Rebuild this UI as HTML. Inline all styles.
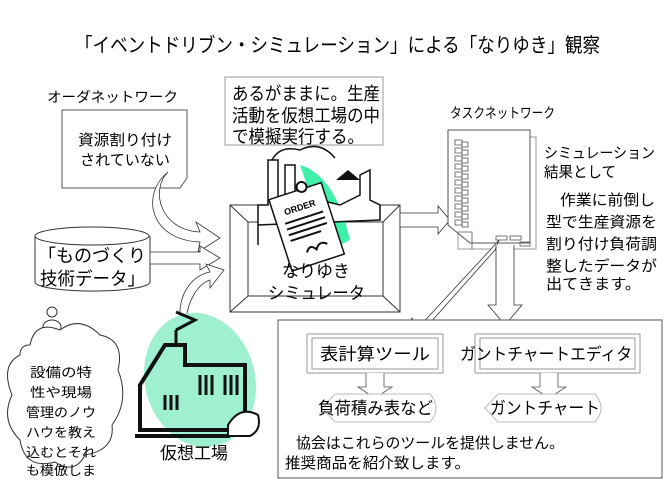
<!DOCTYPE html>
<html><head><meta charset="utf-8"><style>
html,body{margin:0;padding:0;background:#fff;}
svg{display:block;font-family:"Liberation Sans","Noto Sans CJK JP",sans-serif;}
</style></head><body>
<svg width="672" height="504" viewBox="0 0 672 504" xmlns="http://www.w3.org/2000/svg">
<rect width="672" height="504" fill="#fff"/>
<text x="75" y="52" font-size="20" textLength="525" lengthAdjust="spacingAndGlyphs">「イベントドリブン・シミュレーション」による「なりゆき」観察</text>

<!-- order network -->
<text x="47" y="102" font-size="14" textLength="131" lengthAdjust="spacingAndGlyphs">オーダネットワーク</text>
<path d="M62,110 H187 V178 L180,188 H62 Z" fill="#fff" stroke="#555"/>
<text x="78" y="145" font-size="15" textLength="94" lengthAdjust="spacingAndGlyphs">資源割り付け</text>
<text x="80" y="165" font-size="15" textLength="90" lengthAdjust="spacingAndGlyphs">されていない</text>
<path d="M168,172 C150,190 160,230 200,232 L196,222 L220,238 L198,252 L200,242 C150,240 140,195 168,172 Z" fill="#fff" stroke="#333" stroke-width="0.8"/>

<!-- cylinder -->
<path d="M35,236 V282 A57,9 0 0 0 150,282 V236" fill="#fff" stroke="#333"/>
<ellipse cx="92" cy="236" rx="57" ry="9" fill="#fff" stroke="#333"/>
<text x="38" y="262" font-size="18" textLength="108" lengthAdjust="spacingAndGlyphs">「ものづくり</text>
<text x="40" y="285" font-size="18" textLength="105" lengthAdjust="spacingAndGlyphs">技術データ」</text>
<path d="M150,252 H200 V246 L220,258 L200,270 V264 H150 Z" fill="#fff" stroke="#333" stroke-width="0.8"/>
<path d="M180,320 C178,290 195,275 210,272 L206,264 L224,270 L210,288 L210,280 C198,284 188,300 186,320 Z" fill="#fff" stroke="#333" stroke-width="0.8"/>

<!-- textbox -->
<rect x="225" y="77" width="158" height="68" fill="#fff" stroke="#999"/>
<text x="232" y="100" font-size="18" textLength="148" lengthAdjust="spacingAndGlyphs">あるがままに。生産</text>
<text x="232" y="122" font-size="18" textLength="148" lengthAdjust="spacingAndGlyphs">活動を仮想工場の中</text>
<text x="232" y="143" font-size="18" textLength="132" lengthAdjust="spacingAndGlyphs">で模擬実行する。</text>

<!-- simulator frame -->
<rect x="230" y="205" width="170" height="107" fill="#fff" stroke="#333"/>
<rect x="248" y="222" width="135" height="74" fill="#fff" stroke="#333"/>
<path d="M230,205 L248,222 M400,205 L383,222 M230,312 L248,296 M400,312 L383,296" stroke="#333"/>
<path d="M300,165 Q335,175 350,240 L330,250 Z" fill="#3ef0a8"/>
<path d="M258,245 V205 H268 V160 H278 V205 H285 V165 H295 V205 H300 L320,200 L340,205 L360,195 V175 L370,170 V200 L380,205 V220 L258,225 Z" fill="#fff" stroke="#111" stroke-width="1.5"/>
<path d="M272,160 Q280,145 300,150 Q320,140 335,158" fill="none" stroke="#111" stroke-width="1.5"/>
<path d="M336,180 L348,170 L360,180 Z" fill="#111"/>
<g transform="rotate(-18 305 230)">
<rect x="280" y="190" width="55" height="75" fill="#fff" stroke="#111" stroke-width="1.5"/>
<text x="307" y="210" font-size="9" text-anchor="middle" font-weight="bold">ORDER</text>
<path d="M288,218 H328 M288,224 H328 M288,230 H328 M288,236 H320" stroke="#111" stroke-width="2"/>
<path d="M300,252 q5,-8 10,0 q5,-8 12,-2" fill="none" stroke="#111" stroke-width="2"/>
<circle cx="315" cy="188" r="5" fill="#fff" stroke="#111" stroke-width="2"/>
</g>
<text x="282" y="277" font-size="17" textLength="68" lengthAdjust="spacingAndGlyphs">なりゆき</text>
<text x="268" y="299" font-size="17" textLength="97" lengthAdjust="spacingAndGlyphs">シミュレータ</text>

<path d="M400,213 H438 V206 L450,220 L438,234 V227 H400 Z" fill="#fff" stroke="#333" stroke-width="0.8"/>

<!-- task network -->
<text x="450" y="118" font-size="14" textLength="105" lengthAdjust="spacingAndGlyphs">タスクネットワーク</text>
<rect x="458" y="137" width="78" height="112" fill="#fff" stroke="#999"/>
<path d="M448,130 H530 V243 H470 L448,225 Z" fill="#fff" stroke="#555"/>
<g fill="none" stroke="#555" stroke-width="0.8">
<rect x="455" y="140" width="7" height="5"/><rect x="455" y="148" width="7" height="5"/><rect x="455" y="156" width="7" height="5"/><rect x="455" y="164" width="7" height="5"/><rect x="455" y="172" width="7" height="5"/><rect x="455" y="180" width="7" height="5"/><rect x="455" y="188" width="7" height="5"/><rect x="455" y="196" width="7" height="5"/><rect x="455" y="204" width="7" height="5"/><rect x="455" y="212" width="7" height="5"/><rect x="455" y="220" width="7" height="5"/>
<rect x="462" y="142" width="6" height="5"/><rect x="462" y="150" width="6" height="5"/><rect x="462" y="158" width="6" height="5"/><rect x="462" y="166" width="6" height="5"/><rect x="462" y="174" width="6" height="5"/><rect x="462" y="182" width="6" height="5"/><rect x="462" y="190" width="6" height="5"/><rect x="462" y="198" width="6" height="5"/><rect x="462" y="206" width="6" height="5"/><rect x="462" y="214" width="6" height="5"/><rect x="462" y="222" width="6" height="5"/>
<rect x="496" y="236" width="11" height="4"/><rect x="510" y="236" width="11" height="4"/><rect x="520" y="242" width="10" height="4"/>
<path d="M458,232 H472 V249"/>
</g>
<text x="544" y="158" font-size="15" textLength="111" lengthAdjust="spacingAndGlyphs">シミュレーション</text>
<text x="544" y="177" font-size="15" textLength="72" lengthAdjust="spacingAndGlyphs">結果として</text>
<text x="560" y="205" font-size="15" textLength="95" lengthAdjust="spacingAndGlyphs">作業に前倒し</text>
<text x="546" y="227" font-size="15" textLength="111" lengthAdjust="spacingAndGlyphs">型で生産資源を</text>
<text x="546" y="249" font-size="15" textLength="111" lengthAdjust="spacingAndGlyphs">割り付け負荷調</text>
<text x="546" y="271" font-size="15" textLength="111" lengthAdjust="spacingAndGlyphs">整したデータが</text>
<text x="546" y="289" font-size="15" textLength="95" lengthAdjust="spacingAndGlyphs">出てきます。</text>

<path d="M499,240 L492,248 L418,328 L412,318 L405,345 L430,336 L422,332 L495,250 Z" fill="#fff" stroke="#333" stroke-width="0.8"/>
<path d="M496,245 V305 H488 L505,325 L522,305 H514 V245" fill="#fff" stroke="#333" stroke-width="0.8"/>

<!-- bottom box -->
<rect x="278" y="320" width="384" height="158" fill="#fff" stroke="#555"/>
<rect x="307" y="334" width="136" height="39" fill="#fff" stroke="#999"/>
<rect x="312" y="338" width="126" height="31" fill="#fff" stroke="#999"/>
<text x="320" y="360" font-size="17" textLength="110" lengthAdjust="spacingAndGlyphs">表計算ツール</text>
<rect x="475" y="334" width="165" height="39" fill="#fff" stroke="#999"/>
<rect x="480" y="338" width="155" height="31" fill="#fff" stroke="#999"/>
<text x="460" y="360" font-size="17" textLength="172" lengthAdjust="spacingAndGlyphs">ガントチャートエディタ</text>
<path d="M366,373 V387 H358 L375,398 L392,387 H384 V373" fill="#fff" stroke="#555" stroke-width="0.8"/>
<path d="M540,373 V387 H532 L549,398 L566,387 H558 V373" fill="#fff" stroke="#555" stroke-width="0.8"/>
<path d="M322,408 L335,394 H430 Q442,408 430,422 H335 Z" fill="#fff" stroke="#bbb"/>
<text x="318" y="414" font-size="17" textLength="115" lengthAdjust="spacingAndGlyphs">負荷積み表など</text>
<path d="M485,408 L498,394 H595 Q607,408 595,422 H498 Z" fill="#fff" stroke="#bbb"/>
<text x="490" y="414" font-size="17" textLength="110" lengthAdjust="spacingAndGlyphs">ガントチャート</text>
<text x="296" y="448" font-size="15" textLength="268" lengthAdjust="spacingAndGlyphs">協会はこれらのツールを提供しません。</text>
<text x="285" y="468" font-size="15" textLength="185" lengthAdjust="spacingAndGlyphs">推奨商品を紹介致します。</text>

<!-- cloud -->
<circle cx="52" cy="312" r="5" fill="#fff" stroke="#333"/>
<ellipse cx="52" cy="327" rx="9" ry="7" fill="#fff" stroke="#333"/>
<path d="M30,345 Q35,320 60,330 Q80,315 100,335 Q125,340 118,370 Q130,400 112,425 Q115,450 85,455 Q75,475 55,462 Q25,470 20,440 Q0,420 12,395 Q0,365 20,355 Q20,345 30,345 Z" fill="#fff" stroke="#333"/>
<g font-size="13">
<text x="30" y="377" textLength="62" lengthAdjust="spacingAndGlyphs">設備の特</text>
<text x="30" y="397" textLength="62" lengthAdjust="spacingAndGlyphs">性や現場</text>
<text x="26" y="417" textLength="70" lengthAdjust="spacingAndGlyphs">管理のノウ</text>
<text x="26" y="437" textLength="70" lengthAdjust="spacingAndGlyphs">ハウを教え</text>
<text x="26" y="457" textLength="70" lengthAdjust="spacingAndGlyphs">込むとそれ</text>
<text x="26" y="475" textLength="70" lengthAdjust="spacingAndGlyphs">も模倣しま</text>
</g>

<!-- virtual factory -->
<ellipse cx="200" cy="380" rx="55" ry="68" transform="rotate(-15 200 380)" fill="#9ef0d0"/>
<path d="M140,385 L165,345 H185 V365 H245 V430 H140 Z" fill="none" stroke="#111" stroke-width="4"/>
<path d="M176,330 V345 M176,312 L195,320 L176,330" fill="none" stroke="#111" stroke-width="3"/>
<path d="M200,375 V395 M206,375 V395 M212,375 V395 M225,375 V395 M231,375 V395 M237,375 V395 M165,395 V410 M171,395 V410 M177,395 V410" stroke="#111" stroke-width="3"/>
<path d="M135,436 H230" stroke="#111" stroke-width="4"/>
<path d="M228,425 Q240,405 258,415 Q262,430 250,436 H228 Z" fill="#fff" stroke="#111" stroke-width="2"/>
<text x="160" y="459" font-size="17" textLength="68" lengthAdjust="spacingAndGlyphs">仮想工場</text>
</svg>
</body></html>
